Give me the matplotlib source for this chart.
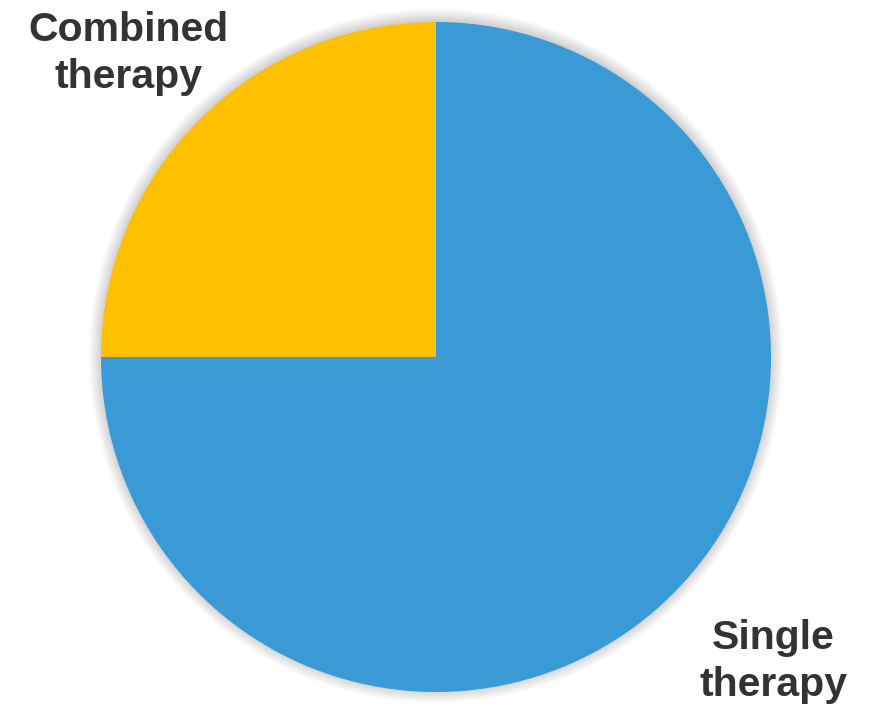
import numpy as np
import matplotlib.pyplot as plt
from matplotlib.patches import Circle

labels = ["Single", "Combined"]
label_lines = [["Single", "therapy"], ["Combined", "therapy"]]
shares = [75, 25]
colors = ["#3A9AD5", "#FFC000"]

plt.rcParams["font.family"] = ["Liberation Sans", "DejaVu Sans"]

fig = plt.figure(figsize=(8.79, 7.07), dpi=100)
ax = fig.add_axes([101 / 879, 15 / 707, 670 / 879, 670 / 707])

# soft shadow around the pie
for i, r in enumerate(np.linspace(1.035, 1.0, 8)):
    ax.add_patch(Circle((0, 0.004), r, color="#000000", alpha=0.025,
                        lw=0, zorder=0, clip_on=False))

ax.pie(shares, colors=colors, startangle=90, counterclock=False,
       wedgeprops=dict(linewidth=0), radius=1)
ax.set_xlim(-1, 1)
ax.set_ylim(-1, 1)
ax.set_aspect("equal")
ax.axis("off")

txt = dict(fontsize=29.5, fontweight="bold", color="#333333", ha="center", va="baseline")
fig.text(128 / 879, 1 - 41 / 707, label_lines[1][0], **txt)
fig.text(129 / 879, 1 - 88 / 707, label_lines[1][1], **txt)
fig.text(773 / 879, 1 - 649 / 707, label_lines[0][0], **txt)
fig.text(774 / 879, 1 - 696 / 707, label_lines[0][1], **txt)

fig.savefig("out.png", dpi=100)
